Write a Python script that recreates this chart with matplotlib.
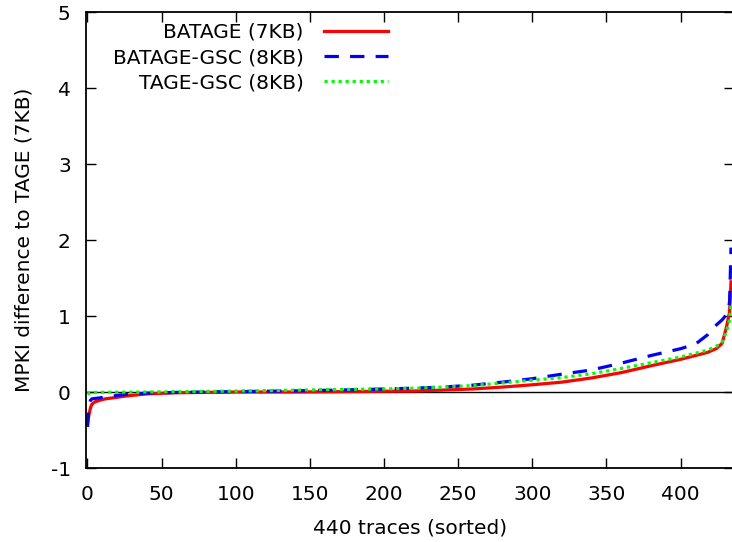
import matplotlib
matplotlib.use("Agg")
import matplotlib.pyplot as plt

# trace index (sorted) at which values were read
trace_idx = [0, 1, 2, 3, 5, 8, 12, 18, 27, 40, 60, 80, 100, 120, 140, 160, 180,
             200, 220, 240, 260, 280, 300, 320, 340, 360, 380, 400, 410, 418,
             424, 428, 431, 433, 434]

batage = [-0.42, -0.30, -0.21, -0.16, -0.13, -0.11, -0.09, -0.075, -0.05, -0.025,
          -0.01, -0.005, 0.0, 0.0, 0.0, 0.003, 0.006, 0.01, 0.013, 0.025, 0.04,
          0.065, 0.095, 0.13, 0.185, 0.255, 0.345, 0.43, 0.48, 0.52, 0.57, 0.64,
          0.86, 1.05, 1.45]

batage_gsc = [-0.46, -0.17, -0.11, -0.09, -0.085, -0.078, -0.065, -0.05, -0.03,
              -0.015, -0.005, 0.0, 0.005, 0.01, 0.015, 0.022, 0.03, 0.04, 0.05,
              0.065, 0.09, 0.13, 0.175, 0.235, 0.29, 0.38, 0.48, 0.57, 0.63, 0.75,
              0.88, 0.95, 1.02, 1.18, 1.9]

tage_gsc = [-0.03, -0.015, -0.01, -0.008, -0.006, -0.005, -0.004, -0.003, -0.002,
            0.0, 0.003, 0.008, 0.012, 0.018, 0.024, 0.03, 0.035, 0.04, 0.05, 0.065,
            0.085, 0.12, 0.155, 0.19, 0.24, 0.31, 0.385, 0.46, 0.51, 0.55, 0.6,
            0.66, 0.8, 0.95, 1.15]

x_ticks = [0, 50, 100, 150, 200, 250, 300, 350, 400]
y_ticks = [-1, 0, 1, 2, 3, 4, 5]

plt.rcParams['axes.unicode_minus'] = False

W, H = 732, 542
fig = plt.figure(figsize=(W / 100, H / 100), dpi=100)
# right spine sits just past the image edge, as in the reference
ax = fig.add_axes([86 / W, (H - 468) / H, (734 - 86) / W, (468 - 12) / H])

fs = 14.5
ax.axhline(0, color='black', linewidth=1.0, zorder=1)
ax.plot(trace_idx, batage, color='#ff0000', linewidth=2.3, label='BATAGE (7KB)')
ax.plot(trace_idx, batage_gsc, color='#0000ff', linewidth=2.3, dashes=(4.5, 3.5),
        label='BATAGE-GSC (8KB)')
ax.plot(trace_idx, tage_gsc, color='#00ff00', linewidth=2.3, dashes=(1, 1.2),
        label='TAGE-GSC (8KB)')

ax.set_xlim(-1, 436)
ax.set_ylim(-1, 5)
ax.set_xticks(x_ticks)
ax.set_yticks(y_ticks)
ax.tick_params(direction='in', length=7, width=1, top=True, right=True,
               labelsize=fs)
ax.tick_params(axis='x', pad=12)
ax.tick_params(axis='y', pad=11)
for s in ax.spines.values():
    s.set_linewidth(1.3)

ax.set_xlabel('440 traces (sorted)', fontsize=fs, labelpad=11)
ax.set_ylabel('MPKI difference to TAGE (7KB)', fontsize=fs, labelpad=12)

ax.legend(loc='upper right', bbox_to_anchor=(388 / W, 1 - 23 / H),
          bbox_transform=fig.transFigure, markerfirst=False, frameon=False,
          fontsize=fs, handlelength=3.2, handletextpad=1.0, labelspacing=0.3,
          borderpad=0, borderaxespad=0)

fig.savefig('out.png', dpi=100)
